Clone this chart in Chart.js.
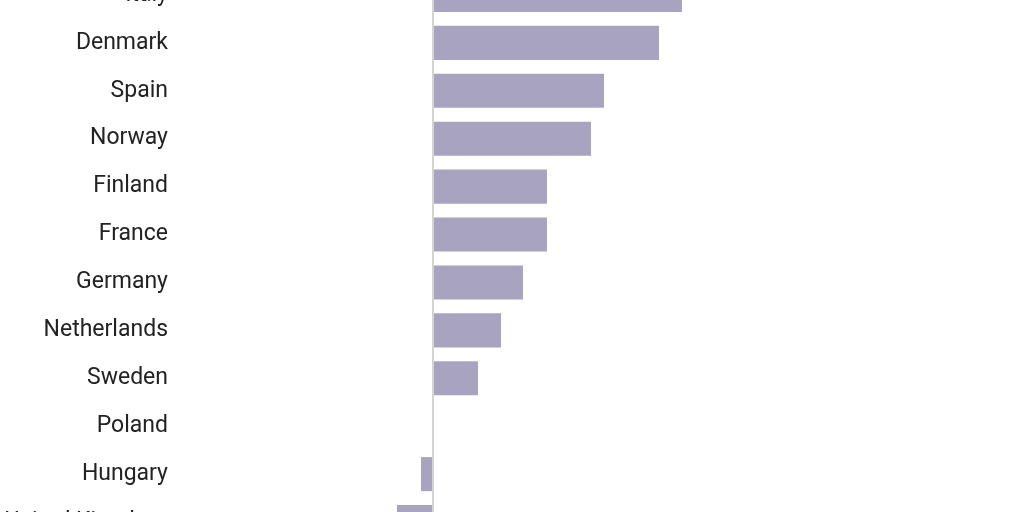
<!DOCTYPE html>
<html>
<head>
<meta charset="utf-8">
<script src="https://cdn.jsdelivr.net/npm/chart.js@4/dist/chart.umd.min.js"></script>
<style>
  html, body { margin: 0; padding: 0; background: #fff; overflow: hidden; }
  #wrap { position: absolute; left: 0; top: -29px; width: 1024px; height: 575px; }
</style>
</head>
<body>
<div id="wrap"><canvas id="barChart"></canvas></div>
<script>
var countries = ['Italy', 'Denmark', 'Spain', 'Norway', 'Finland', 'France',
    'Germany', 'Netherlands', 'Sweden', 'Poland', 'Hungary', 'United Kingdom'];
var values = [24.9, 22.6, 17.1, 15.8, 11.4, 11.4, 9.0, 6.8, 4.5, 0, -1.2, -3.6];
var axisMin = -25.3;
var axisMax = 59.1;

var ctx = document.getElementById('barChart').getContext('2d');
new Chart(ctx, {
    type: 'bar',
    data: {
        labels: countries,
        datasets: [{
            data: values,
            backgroundColor: '#a8a4c0',
            borderWidth: 0,
            categoryPercentage: 0.71,
            barPercentage: 1
        }]
    },
    options: {
        indexAxis: 'y',
        responsive: true,
        maintainAspectRatio: false,
        animation: false,
        layout: { padding: 0 },
        plugins: {
            legend: { display: false },
            tooltip: { enabled: false }
        },
        scales: {
            x: {
                min: axisMin,
                max: axisMax,
                ticks: { display: false, stepSize: 10 },
                border: { display: false },
                grid: {
                    drawTicks: false,
                    lineWidth: 2,
                    color: function (c) {
                        return c.tick && c.tick.value === 0 ? '#d4d4d4' : 'rgba(0,0,0,0)';
                    }
                },
                afterFit: function (axis) {
                    axis.height = 0;
                    axis.paddingLeft = 0;
                    axis.paddingRight = 0;
                }
            },
            y: {
                border: { display: false },
                grid: { display: false },
                ticks: {
                    color: '#222',
                    padding: 4,
                    font: { family: 'Roboto', size: 23 }
                },
                afterFit: function (axis) {
                    axis.width = 180;
                    axis.paddingTop = 0;
                    axis.paddingBottom = 0;
                }
            }
        }
    }
});
</script>
</body>
</html>
